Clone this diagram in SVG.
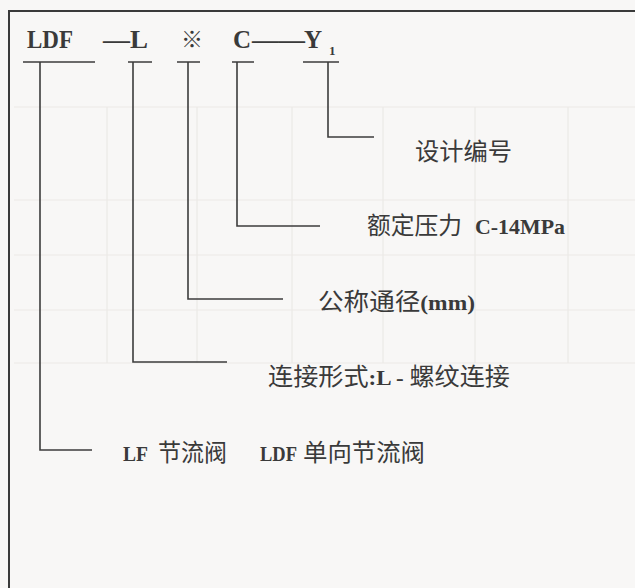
<svg xmlns="http://www.w3.org/2000/svg" width="635" height="588" viewBox="0 0 635 588">
<style>
.bg{fill:#f8f7f6}
.faint{stroke:#ebe9e6;stroke-width:1.2;fill:none}
.frame{stroke:#3a3a3a;stroke-width:2;fill:none}
.conn{stroke:#3c3c3c;stroke-width:1.6;fill:none}
.code{font-family:"Liberation Serif","DejaVu Serif",serif;font-weight:bold;font-size:25px;fill:#3a3a3a}
.lat{font-family:"Liberation Serif","DejaVu Serif",serif;font-weight:bold;fill:#3a3a3a}
.cjk{font-family:"Noto Sans CJK SC","Noto Sans",sans-serif;font-size:24px;fill:#3a3a3a}
</style>
<rect class="bg" x="0" y="0" width="635" height="588"/>
<g id="background-grid">
<path class="faint" d="M14,107 H635 M14,200 H635 M14,255 H635 M14,310 H635 M14,363 H635 M107,107 V363 M197,107 V363 M292,107 V363 M383,107 V363 M475,107 V363 M568,107 V363"/>
</g>
<g id="frame">
<path class="frame" d="M9,588 V11 H635"/>
</g>
<g id="code">
<text class="code" x="27" y="48" textLength="46" lengthAdjust="spacingAndGlyphs">LDF</text>
<text class="code" x="103" y="48" textLength="45" lengthAdjust="spacingAndGlyphs">—L</text>
<text x="181" y="47" style="font-family:'Noto Sans CJK SC','DejaVu Sans',sans-serif;font-size:22px;fill:#3a3a3a">※</text>
<text class="code" x="233" y="48">C</text>
<text class="code" x="252" y="48" textLength="53" lengthAdjust="spacingAndGlyphs">——</text>
<text class="code" x="304" y="48">Y</text>
<text class="lat" x="329" y="55" font-size="13">1</text>
</g>
<g id="connectors">
<path class="conn" d="M23,62 H95 M40,62 V450 H92"/>
<path class="conn" d="M128,62 H152 M133,62 V362 H227"/>
<path class="conn" d="M177,62 H200 M188,62 V299 H283"/>
<path class="conn" d="M232,62 H254 M237,62 V226 H320"/>
<path class="conn" d="M303,62 H339 M328,62 V137 H374"/>
</g>
<g id="node-design-no">
<text class="cjk" x="415" y="160" textLength="97" lengthAdjust="spacingAndGlyphs">设计编号</text>
</g>
<g id="node-pressure">
<text class="cjk" x="367" y="234" textLength="95" lengthAdjust="spacingAndGlyphs">额定压力</text>
<text class="lat" x="475" y="234" font-size="22" textLength="90" lengthAdjust="spacingAndGlyphs">C-14MPa</text>
</g>
<g id="node-diameter">
<text class="cjk" x="318" y="310" textLength="157" lengthAdjust="spacingAndGlyphs">公称通径<tspan class="lat" font-size="22">(mm)</tspan></text>
</g>
<g id="node-connection">
<text class="cjk" x="268" y="385" textLength="242" lengthAdjust="spacingAndGlyphs">连接形式<tspan class="lat" font-size="22">:L - </tspan>螺纹连接</text>
</g>
<g id="node-type">
<text class="lat" x="123" y="461" font-size="22" textLength="25" lengthAdjust="spacingAndGlyphs">LF</text>
<text class="cjk" x="158" y="461" font-size="23" textLength="69" lengthAdjust="spacingAndGlyphs">节流阀</text>
<text class="lat" x="260" y="461" font-size="22" textLength="37" lengthAdjust="spacingAndGlyphs">LDF</text>
<text class="cjk" x="303" y="461" font-size="23" textLength="122" lengthAdjust="spacingAndGlyphs">单向节流阀</text>
</g>
</svg>
